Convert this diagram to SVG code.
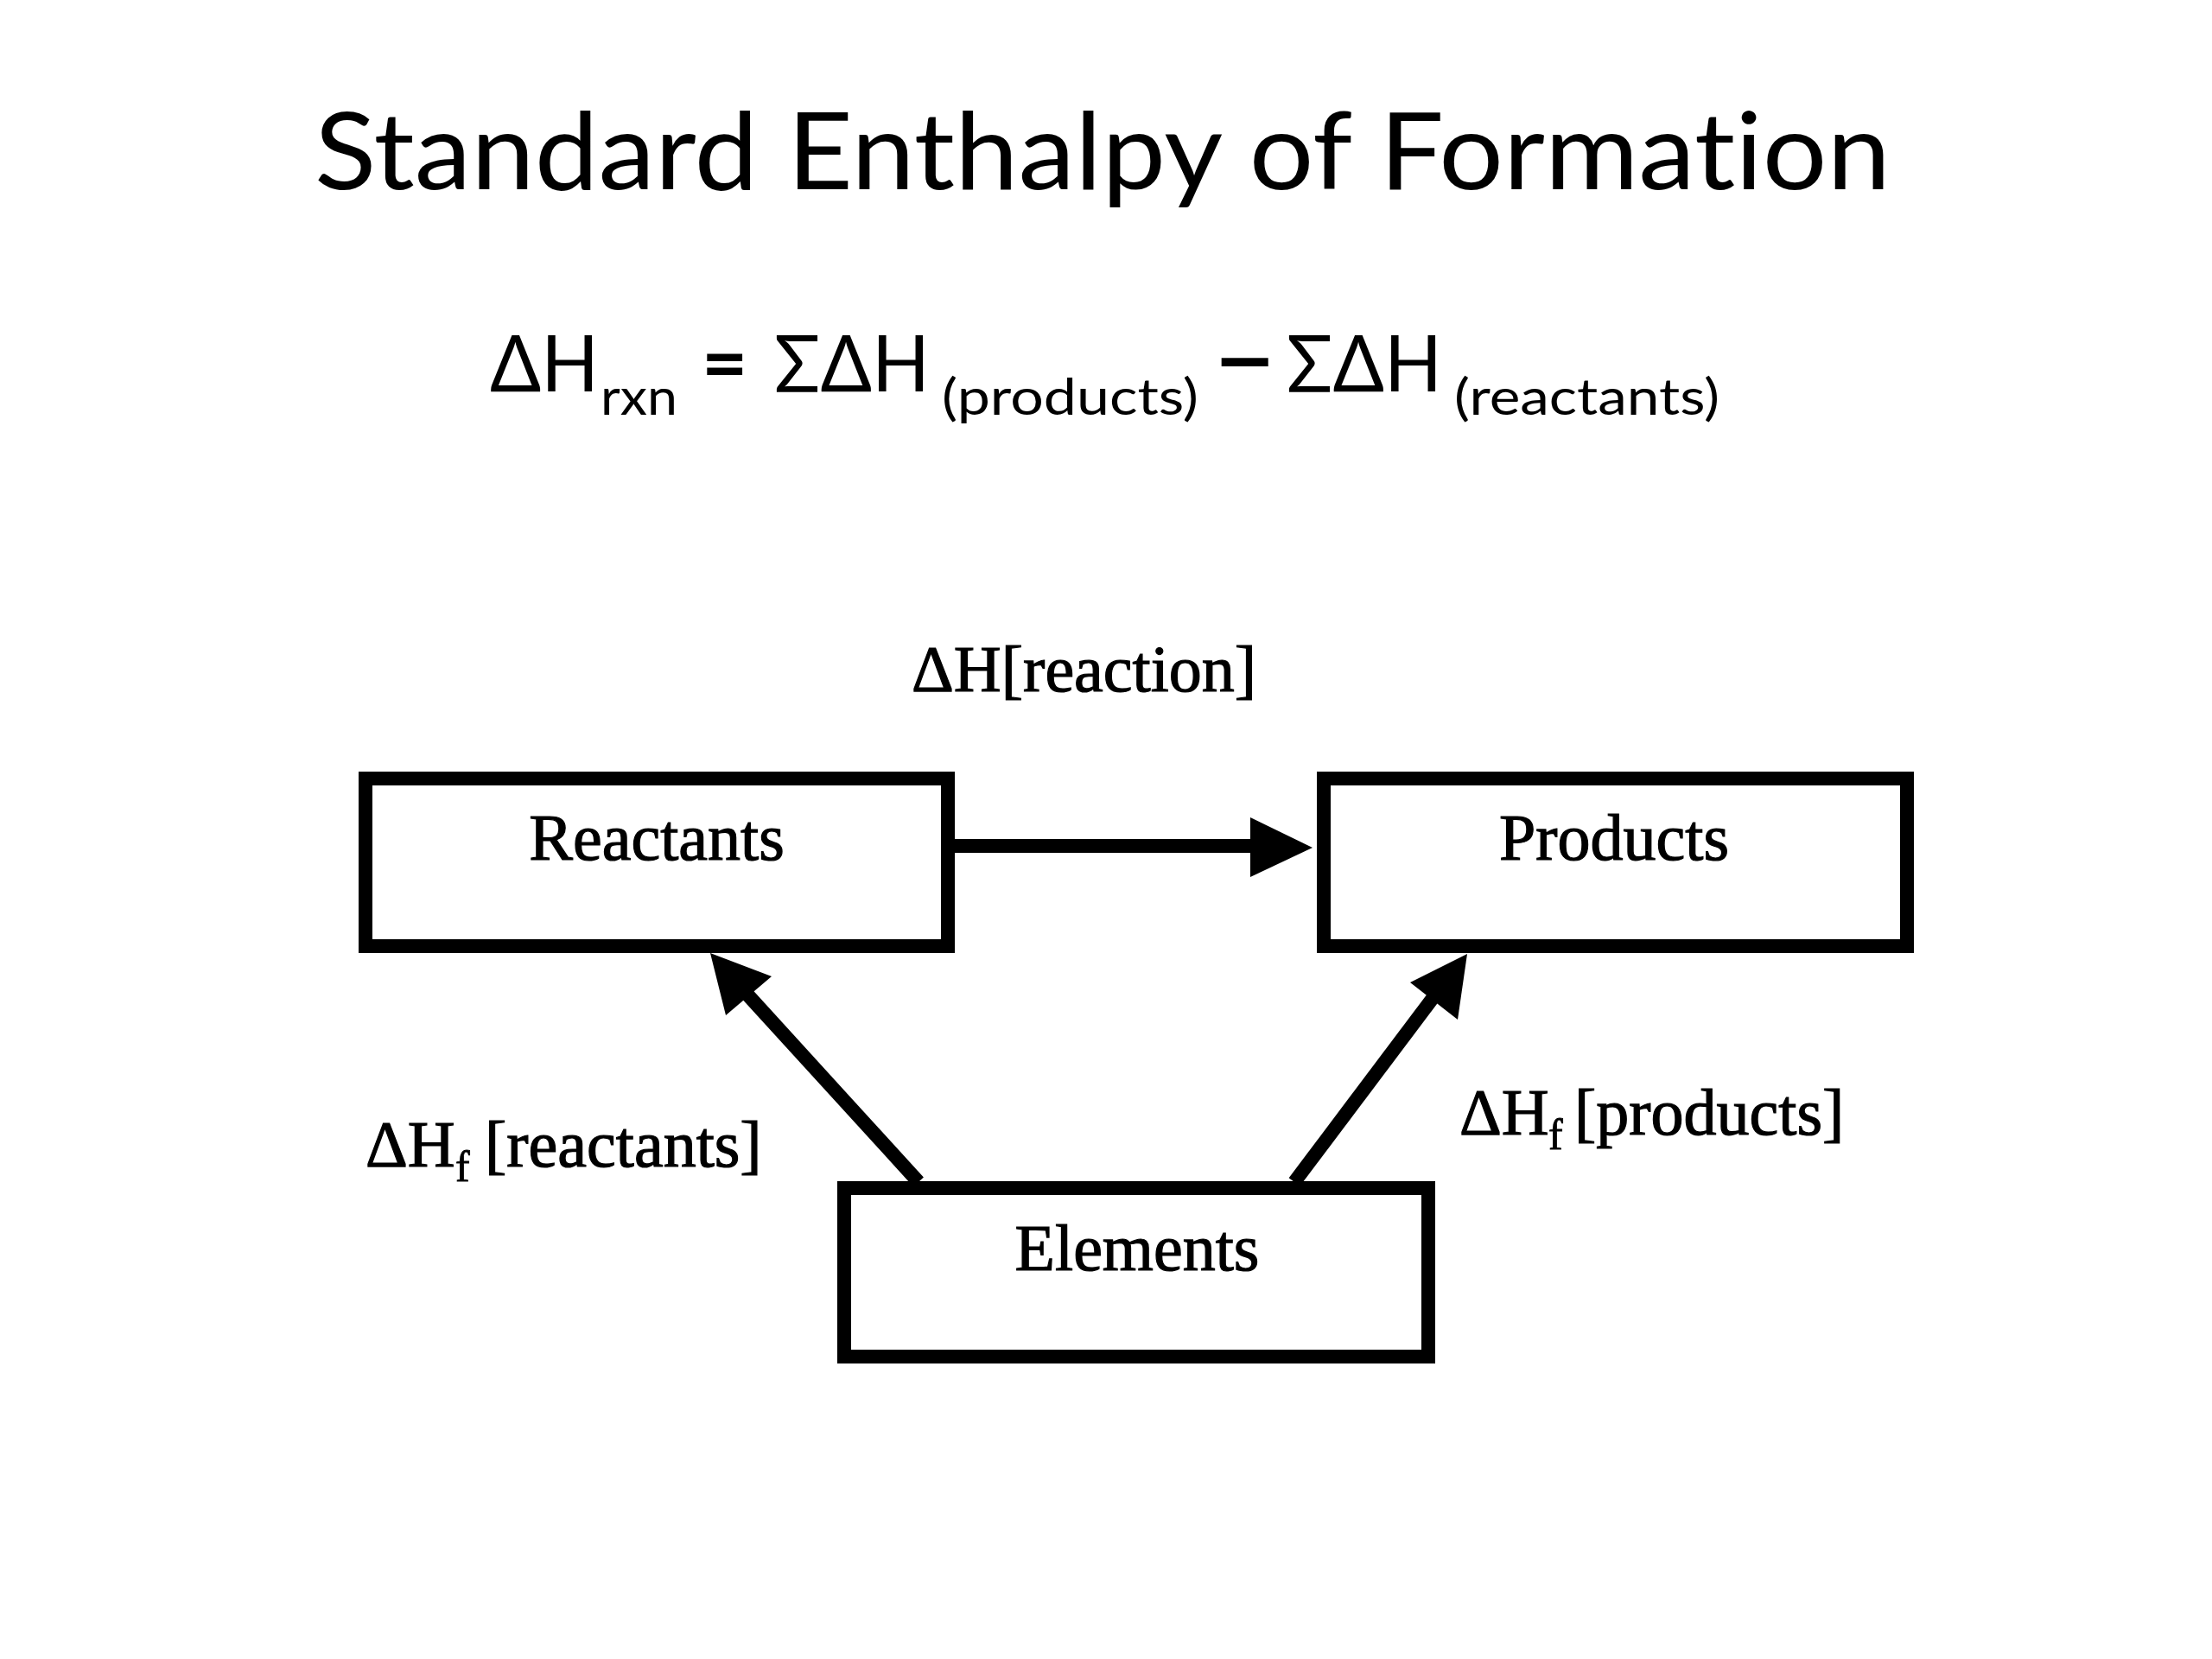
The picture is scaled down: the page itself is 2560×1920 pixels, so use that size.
<svg xmlns="http://www.w3.org/2000/svg" width="2560" height="1920" viewBox="0 0 2560 1920">
<style>
text{font-variant-ligatures:none;font-feature-settings:"liga" 0}
.title{font-family:Lato,"Open Sans","Noto Sans",sans-serif;font-size:124px;fill:#000}
.eq{font-family:Lato,"Noto Sans","DejaVu Sans",sans-serif;font-size:92px;fill:#000}
.eqs{font-family:Lato,"Noto Sans","DejaVu Sans",sans-serif;font-size:58px;fill:#000}
.lbl{font-family:"Liberation Serif","Times New Roman",serif;font-size:76px;fill:#000;stroke:#000;stroke-width:1.2}
.sub{font-family:"Liberation Serif","Times New Roman",serif;font-size:50px;fill:#000;stroke:#000;stroke-width:0.8}
.box{fill:#fff;stroke:#000;stroke-width:16}
.ln{stroke:#000;stroke-width:16;fill:none}
</style>
<rect width="2560" height="1920" fill="#fff"/>
<text class="title" x="364" y="219" textLength="1824" lengthAdjust="spacingAndGlyphs">Standard Enthalpy of Formation</text>
<g id="equation">
<text class="eq" x="567" y="453" textLength="126" lengthAdjust="spacingAndGlyphs">ΔH</text>
<text class="eqs" x="695" y="480" textLength="89" lengthAdjust="spacingAndGlyphs">rxn</text>
<text class="eq" x="812" y="453" font-weight="bold">=</text>
<text class="eq" x="896" y="453" textLength="180" lengthAdjust="spacingAndGlyphs">ΣΔH</text>
<text class="eqs" x="1090" y="480" textLength="297" lengthAdjust="spacingAndGlyphs">(products)</text>
<text class="eq" font-weight="bold" transform="translate(1402,453) scale(1.45,1.2)" x="0" y="0">–</text>
<text class="eq" x="1489" y="453" textLength="180" lengthAdjust="spacingAndGlyphs">ΣΔH</text>
<text class="eqs" x="1683" y="480" textLength="307" lengthAdjust="spacingAndGlyphs">(reactants)</text>
</g>
<g id="connectors">
<line class="ln" x1="1105" y1="979" x2="1452" y2="979"/>
<polygon points="1447,946 1519,981 1447,1015" fill="#000"/>
<line class="ln" x1="1063" y1="1368" x2="855" y2="1140"/>
<polygon points="822,1103 893,1130 840,1175" fill="#000"/>
<line class="ln" x1="1498" y1="1368" x2="1668" y2="1142"/>
<polygon points="1698,1104 1632,1137 1687,1180" fill="#000"/>
<text class="lbl" x="1055" y="800">ΔH[reaction]</text>
<g id="lbl-reactants">
<text class="lbl" x="423" y="1350">ΔH</text>
<text class="sub" x="527" y="1367">f</text>
<text class="lbl" x="561" y="1350">[reactants]</text>
</g>
<g id="lbl-products">
<text class="lbl" x="1689" y="1313">ΔH</text>
<text class="sub" x="1792" y="1330">f</text>
<text class="lbl" x="1822" y="1313">[products]</text>
</g>
</g>
<g id="node-reactants">
<rect class="box" x="423" y="901" width="674" height="194"/>
<text class="lbl" x="760" y="995" text-anchor="middle">Reactants</text>
</g>
<g id="node-products">
<rect class="box" x="1532" y="901" width="675" height="194"/>
<text class="lbl" x="1868" y="995" text-anchor="middle">Products</text>
</g>
<g id="node-elements">
<rect class="box" x="977" y="1375" width="676" height="195"/>
<text class="lbl" x="1316" y="1470" text-anchor="middle">Elements</text>
</g>
</svg>
